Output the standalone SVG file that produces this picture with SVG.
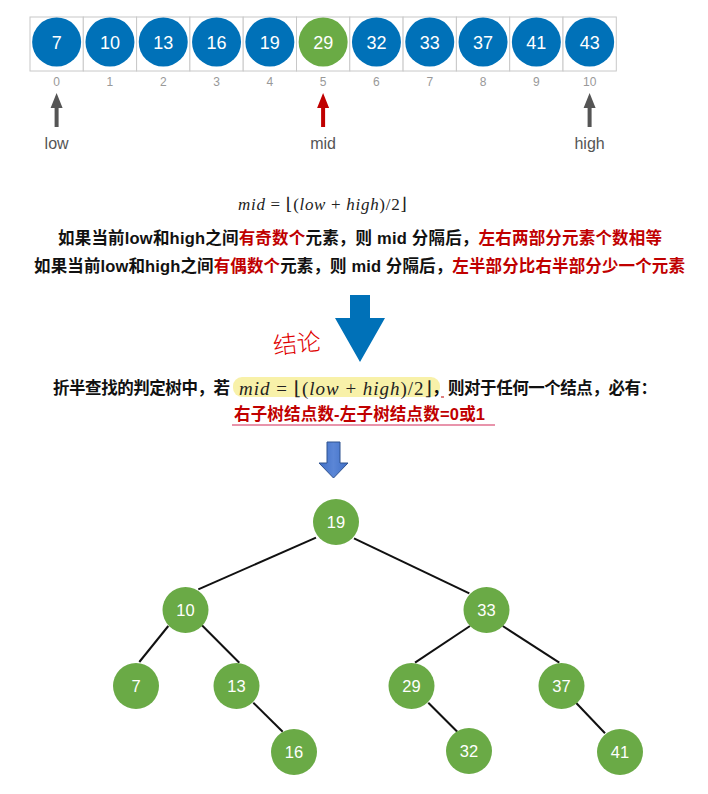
<svg xmlns="http://www.w3.org/2000/svg" width="708" height="794" viewBox="0 0 708 794">
<defs>
<style>
.cell{fill:#fff;stroke:#c8c8c8;stroke-width:1}
.ab{fill:#0071b8}
.ag{fill:#6aab45}
.tn{fill:#6aaa46}
.num{font-family:"Liberation Sans",Arial,sans-serif;font-size:18px;fill:#fff;text-anchor:middle}
.tnum{font-family:"Liberation Sans",Arial,sans-serif;font-size:16.5px;fill:#fff;text-anchor:middle}
.idx{font-family:"Liberation Sans",Arial,sans-serif;font-size:12px;fill:#999;text-anchor:middle}
.lbl{font-family:"Liberation Sans",Arial,sans-serif;font-size:16px;fill:#555;text-anchor:middle}
.cn{font-family:"Liberation Sans","Noto Sans CJK SC",sans-serif;font-weight:bold;font-size:16.5px;fill:#111}
.red{fill:#c00000}
.math{font-family:"Liberation Serif","DejaVu Serif",serif;fill:#222}
.it{font-style:italic}
.edge{stroke:#111;stroke-width:2;fill:none}
</style>
<linearGradient id="sg" x1="0" y1="0" x2="1" y2="0">
<stop offset="0" stop-color="#3f6fc6"/><stop offset="0.5" stop-color="#5b86d6"/><stop offset="1" stop-color="#3f6fc6"/>
</linearGradient>
</defs>

<g id="array">
<rect class="cell" x="30" y="17" width="53.3" height="54"/>
<rect class="cell" x="83.3" y="17" width="53.3" height="54"/>
<rect class="cell" x="136.6" y="17" width="53.3" height="54"/>
<rect class="cell" x="189.9" y="17" width="53.3" height="54"/>
<rect class="cell" x="243.2" y="17" width="53.3" height="54"/>
<rect class="cell" x="296.5" y="17" width="53.3" height="54"/>
<rect class="cell" x="349.8" y="17" width="53.3" height="54"/>
<rect class="cell" x="403.1" y="17" width="53.3" height="54"/>
<rect class="cell" x="456.4" y="17" width="53.3" height="54"/>
<rect class="cell" x="509.7" y="17" width="53.3" height="54"/>
<rect class="cell" x="563" y="17" width="53.3" height="54"/>
</g>
<g id="a0"><circle class="ab" cx="56.65" cy="42" r="24.5"/><text class="num" x="56.65" y="48.5">7</text><text class="idx" x="56.65" y="86">0</text></g>
<g id="a1"><circle class="ab" cx="109.95" cy="42" r="24.5"/><text class="num" x="109.95" y="48.5">10</text><text class="idx" x="109.95" y="86">1</text></g>
<g id="a2"><circle class="ab" cx="163.25" cy="42" r="24.5"/><text class="num" x="163.25" y="48.5">13</text><text class="idx" x="163.25" y="86">2</text></g>
<g id="a3"><circle class="ab" cx="216.55" cy="42" r="24.5"/><text class="num" x="216.55" y="48.5">16</text><text class="idx" x="216.55" y="86">3</text></g>
<g id="a4"><circle class="ab" cx="269.85" cy="42" r="24.5"/><text class="num" x="269.85" y="48.5">19</text><text class="idx" x="269.85" y="86">4</text></g>
<g id="a5"><circle class="ag" cx="323.15" cy="42" r="24.5"/><text class="num" x="323.15" y="48.5">29</text><text class="idx" x="323.15" y="86">5</text></g>
<g id="a6"><circle class="ab" cx="376.45" cy="42" r="24.5"/><text class="num" x="376.45" y="48.5">32</text><text class="idx" x="376.45" y="86">6</text></g>
<g id="a7"><circle class="ab" cx="429.75" cy="42" r="24.5"/><text class="num" x="429.75" y="48.5">33</text><text class="idx" x="429.75" y="86">7</text></g>
<g id="a8"><circle class="ab" cx="483.05" cy="42" r="24.5"/><text class="num" x="483.05" y="48.5">37</text><text class="idx" x="483.05" y="86">8</text></g>
<g id="a9"><circle class="ab" cx="536.35" cy="42" r="24.5"/><text class="num" x="536.35" y="48.5">41</text><text class="idx" x="536.35" y="86">9</text></g>
<g id="a10"><circle class="ab" cx="589.65" cy="42" r="24.5"/><text class="num" x="589.65" y="48.5">43</text><text class="idx" x="589.65" y="86">10</text></g>

<g id="pointers">
<path d="M56.6 93 L62.6 108 L58.6 108 L58.6 127 L54.6 127 L54.6 108 L50.6 108 Z" fill="#555"/>
<text class="lbl" x="56.6" y="149">low</text>
<path d="M323.1 93 L329.1 108 L325.1 108 L325.1 127 L321.1 127 L321.1 108 L317.1 108 Z" fill="#c00000"/>
<text class="lbl" x="323.1" y="149">mid</text>
<path d="M589.6 93 L595.6 108 L591.6 108 L591.6 127 L587.6 127 L587.6 108 L583.6 108 Z" fill="#555"/>
<text class="lbl" x="589.6" y="149">high</text>
</g>

<g id="formula1">
<text class="math" x="238" y="209.5" font-size="17" textLength="169" lengthAdjust="spacing"><tspan class="it">mid</tspan> = ⌊(<tspan class="it">low</tspan> + <tspan class="it">high</tspan>)/2⌋</text>
</g>

<g id="rules">
<text class="cn" x="58" y="244" textLength="604" lengthAdjust="spacing">如果当前low和high之间<tspan class="red">有奇数个</tspan>元素，则 mid 分隔后，<tspan class="red">左右两部分元素个数相等</tspan></text>
<text class="cn" x="34" y="272" textLength="651" lengthAdjust="spacing">如果当前low和high之间<tspan class="red">有偶数个</tspan>元素，则 mid 分隔后，<tspan class="red">左半部分比右半部分少一个元素</tspan></text>
</g>

<g id="bigArrow">
<path d="M350 295 L370 295 L370 318 L385 318 L360 362 L335 318 L350 318 Z" fill="#0071b8"/>
<text x="297" y="352" font-family="'Noto Sans CJK SC',sans-serif" font-size="24" font-weight="300" fill="#e00000" text-anchor="middle" transform="rotate(-6 297 344)">结论</text>
</g>

<g id="conclusion">
<rect x="233" y="377" width="207" height="20" rx="9" fill="#f7ee9a" opacity="0.85"/>
<text class="cn" x="53" y="394" font-size="16" textLength="177" lengthAdjust="spacing">折半查找的判定树中，若</text>
<text class="math" x="239" y="395" font-size="19" textLength="193" lengthAdjust="spacing"><tspan class="it">mid</tspan> = ⌊(<tspan class="it">low</tspan> + <tspan class="it">high</tspan>)/2⌋</text>
<text class="cn" x="432" y="394" font-size="16" textLength="225" lengthAdjust="spacing">，则对于任何一个结点，必有：</text>
<line x1="441" y1="397" x2="444" y2="397" stroke="#c00000" stroke-width="1"/>
<text class="cn red" x="234" y="420" textLength="251" lengthAdjust="spacing">右子树结点数-左子树结点数=0或1</text>
<line x1="232" y1="425" x2="495" y2="425" stroke="#e0708f" stroke-width="1.6"/>
</g>

<g id="smallArrow">
<path d="M327 442 L340 442 L340 463 L348 463 L333.5 478 L319 463 L327 463 Z" fill="url(#sg)" stroke="#2f528f" stroke-width="1"/>
</g>

<g id="connectors">
<line class="edge" x1="316" y1="537.7" x2="198.3" y2="589.3"/>
<line class="edge" x1="354" y1="538.3" x2="469.3" y2="593.3"/>
<line class="edge" x1="168.3" y1="626" x2="139.3" y2="662"/>
<line class="edge" x1="201.7" y1="625" x2="239.3" y2="662.7"/>
<line class="edge" x1="470" y1="626" x2="415" y2="662.7"/>
<line class="edge" x1="502.7" y1="626" x2="559.3" y2="662.7"/>
<line class="edge" x1="253.3" y1="702.7" x2="282.7" y2="731.7"/>
<line class="edge" x1="428.3" y1="702.7" x2="457.3" y2="731.7"/>
<line class="edge" x1="576" y1="702.7" x2="605" y2="733.3"/>
</g>

<g id="n19"><circle class="tn" cx="336" cy="522" r="23"/><text class="tnum" x="336" y="528">19</text></g>
<g id="n10"><circle class="tn" cx="185.5" cy="610" r="23"/><text class="tnum" x="185.5" y="616">10</text></g>
<g id="n33"><circle class="tn" cx="486.5" cy="610" r="23"/><text class="tnum" x="486.5" y="616">33</text></g>
<g id="n7"><circle class="tn" cx="136" cy="686" r="23"/><text class="tnum" x="136" y="692">7</text></g>
<g id="n13"><circle class="tn" cx="236.5" cy="686" r="23"/><text class="tnum" x="236.5" y="692">13</text></g>
<g id="n29"><circle class="tn" cx="411.5" cy="686" r="23"/><text class="tnum" x="411.5" y="692">29</text></g>
<g id="n37"><circle class="tn" cx="561.5" cy="686" r="23"/><text class="tnum" x="561.5" y="692">37</text></g>
<g id="n16"><circle class="tn" cx="294" cy="752" r="23"/><text class="tnum" x="294" y="758">16</text></g>
<g id="n32"><circle class="tn" cx="469" cy="751" r="23"/><text class="tnum" x="469" y="757">32</text></g>
<g id="n41"><circle class="tn" cx="620" cy="752" r="23"/><text class="tnum" x="620" y="758">41</text></g>
</svg>
